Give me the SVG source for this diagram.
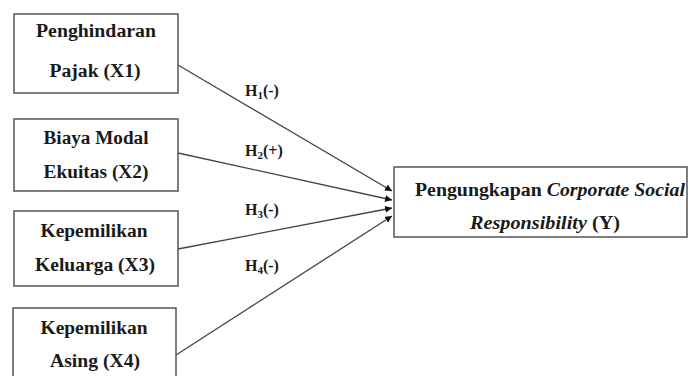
<svg xmlns="http://www.w3.org/2000/svg" width="688" height="376" viewBox="0 0 688 376">
<defs>
<marker id="ah" viewBox="0 0 10 10" refX="10" refY="5" markerWidth="7" markerHeight="7" orient="auto" markerUnits="userSpaceOnUse">
<path d="M0,0 L10,5 L0,10 z" fill="#111"/>
</marker>
<style>
.box{fill:#fff;stroke:#555;stroke-width:1.5}
.t{font-family:"Liberation Serif","Times New Roman",serif;font-weight:bold;font-size:18px;fill:#1a1a1a;text-anchor:middle}
.h{font-family:"Liberation Serif","Times New Roman",serif;font-weight:bold;font-size:16px;fill:#1a1a1a}
.c{stroke:#444;stroke-width:1.3;fill:none;marker-end:url(#ah)}
</style>
</defs>
<rect width="688" height="376" fill="#fff"/>
<g id="connectors">
<line class="c" x1="178" y1="65" x2="392" y2="191"/>
<line class="c" x1="178" y1="153" x2="392" y2="200"/>
<line class="c" x1="178" y1="249" x2="392" y2="208"/>
<line class="c" x1="176" y1="355" x2="392" y2="216"/>
<text class="h" x="245" y="96">H<tspan font-size="11" dy="3">1</tspan><tspan dy="-3">(-)</tspan></text>
<text class="h" x="245" y="156">H<tspan font-size="11" dy="3">2</tspan><tspan dy="-3">(+)</tspan></text>
<text class="h" x="245" y="215">H<tspan font-size="11" dy="3">3</tspan><tspan dy="-3">(-)</tspan></text>
<text class="h" x="245" y="271">H<tspan font-size="11" dy="3">4</tspan><tspan dy="-3">(-)</tspan></text>
</g>
<g id="x1">
<rect class="box" x="14" y="14" width="164" height="79"/>
<text class="t" x="96" y="37" textLength="120" lengthAdjust="spacingAndGlyphs">Penghindaran</text>
<text class="t" x="95" y="77" textLength="91" lengthAdjust="spacingAndGlyphs">Pajak (X1)</text>
</g>
<g id="x2">
<rect class="box" x="14" y="119" width="164" height="72"/>
<text class="t" x="96" y="144" textLength="105" lengthAdjust="spacingAndGlyphs">Biaya Modal</text>
<text class="t" x="96" y="178" textLength="105" lengthAdjust="spacingAndGlyphs">Ekuitas (X2)</text>
</g>
<g id="x3">
<rect class="box" x="14" y="211" width="164" height="75"/>
<text class="t" x="94" y="237" textLength="107" lengthAdjust="spacingAndGlyphs">Kepemilikan</text>
<text class="t" x="95" y="271" textLength="120" lengthAdjust="spacingAndGlyphs">Keluarga (X3)</text>
</g>
<g id="x4">
<rect class="box" x="13" y="308" width="163" height="80"/>
<text class="t" x="94" y="334" textLength="107" lengthAdjust="spacingAndGlyphs">Kepemilikan</text>
<text class="t" x="95" y="367" textLength="90" lengthAdjust="spacingAndGlyphs">Asing (X4)</text>
</g>
<g id="y">
<rect class="box" x="394" y="167" width="293" height="70"/>
<text class="t" x="550" y="196" textLength="270" lengthAdjust="spacingAndGlyphs">Pengungkapan <tspan font-style="italic">Corporate Social</tspan></text>
<text class="t" x="545" y="229" textLength="150" lengthAdjust="spacingAndGlyphs"><tspan font-style="italic">Responsibility</tspan> (Y)</text>
</g>
</svg>
